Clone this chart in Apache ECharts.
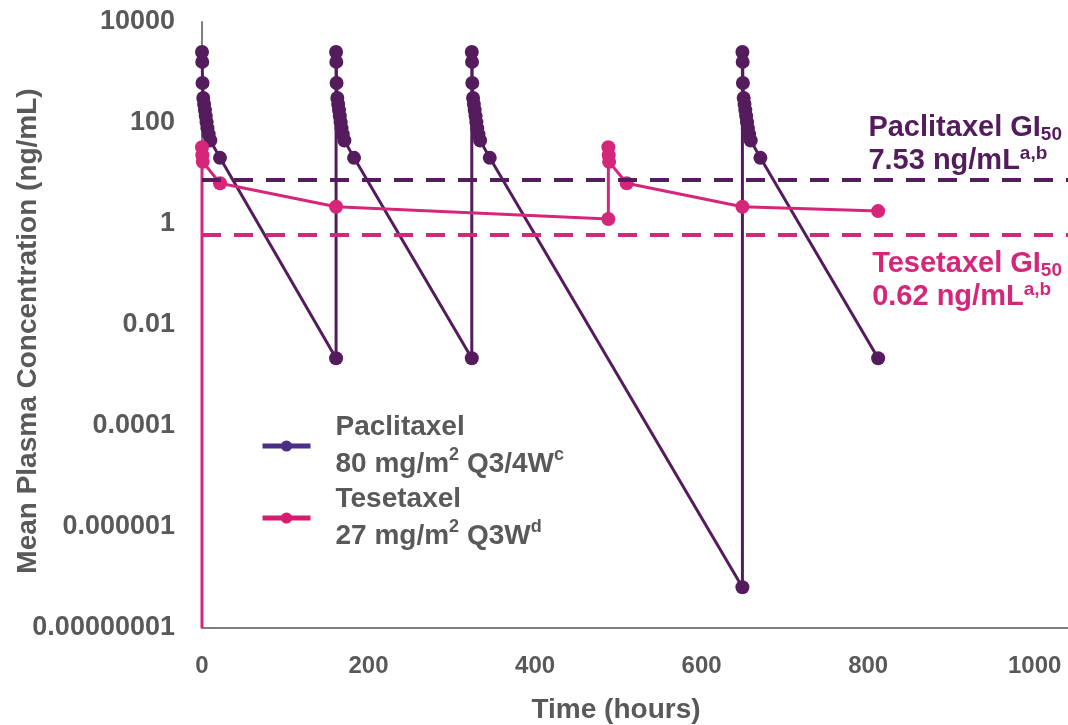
<!DOCTYPE html>
<html><head><meta charset="utf-8">
<script src="https://cdn.jsdelivr.net/npm/echarts@6/dist/echarts.min.js"></script>
<style>html,body{margin:0;padding:0;background:#fff}#c{width:1068px;height:725px}</style>
</head><body><div id="c"></div>
<script>
// ---- data ----
const paclitaxelTime = [
  0, 0.3, 0.6, 1.5, 2.5, 3.5, 4.5, 5.5, 6.5, 8, 10, 21.6, 161,
  161, 161.3, 161.6, 162.5, 163.5, 164.5, 165.5, 166.5, 167.5, 169, 171, 182.6, 324,
  324, 324.3, 324.6, 325.5, 326.5, 327.5, 328.5, 329.5, 330.5, 332, 334, 345.6, 649,
  649, 649.3, 649.6, 650.5, 651.5, 652.5, 653.5, 654.5, 655.5, 657, 659, 670.6, 812
];
const paclitaxelConc = [
  2550, 1620, 620, 313, 238, 180, 137, 104, 79, 60, 45, 20.4, 0.0022,
  2550, 1620, 620, 313, 238, 180, 137, 104, 79, 60, 45, 20.4, 0.0022,
  2550, 1620, 620, 313, 238, 180, 137, 104, 79, 60, 45, 20.4, 0.000000064,
  2550, 1620, 620, 313, 238, 180, 137, 104, 79, 60, 45, 20.4, 0.0022
];
const tesetaxelTime = [0, 0, 0.4, 0.9, 21.6, 161, 488, 488, 488.4, 488.9, 510, 649, 812];
const tesetaxelConc = [0.00000001, 33, 23, 17, 6.4, 2.2, 1.26, 33, 23, 17, 6.4, 2.2, 1.8];
const gi50Paclitaxel = 7.53;
const gi50Tesetaxel = 0.62;
const yTickLabels = ['0.00000001', '0.000001', '0.0001', '0.01', '1', '100', '10000'];
const xTickValues = [0, 200, 400, 600, 800, 1000];

const PURPLE = '#541c5c';
const PINK = '#d6267a';
const GREY = '#595959';
const FONT = '"Liberation Sans", Arial, sans-serif';

function zip(xs, ys) { return xs.map((x, i) => [x, ys[i]]); }

const pacData = zip(paclitaxelTime, paclitaxelConc);
const tesData = zip(tesetaxelTime, tesetaxelConc).map((p, i) =>
  i === 0 ? { value: p, symbol: 'none' } : p);

function annotRich(color) {
  return {
    t: { fontSize: 29, fontWeight: 'bold', color: color, fontFamily: FONT, lineHeight: 33, align: 'left' },
    sub: { fontSize: 19, fontWeight: 'bold', color: color, fontFamily: FONT, lineHeight: 33, align: 'left', verticalAlign: 'bottom', padding: [8, 0, 0, 0] },
    sup: { fontSize: 19, fontWeight: 'bold', color: color, fontFamily: FONT, lineHeight: 33, align: 'left', verticalAlign: 'top', padding: [0, 0, 8, 0] }
  };
}

const chart = echarts.init(document.getElementById('c'), null, { renderer: 'canvas' });
chart.setOption({
  backgroundColor: '#fff',
  animation: false,
  textStyle: { fontFamily: FONT },
  grid: { left: 202, right: 0, top: 22, bottom: 97, containLabel: false, outerBoundsMode: 'none' },
  legend: {
    orient: 'vertical',
    left: 260,
    top: 409,
    padding: 0,
    itemWidth: 48,
    itemHeight: 14,
    itemGap: -2,
    data: [
      { name: 'Paclitaxel', itemStyle: { color: '#4b2f86' }, lineStyle: { color: '#4b2f86', width: 5 } },
      { name: 'Tesetaxel', itemStyle: { color: '#d81b6f' }, lineStyle: { color: '#d81b6f', width: 5 } }
    ],
    formatter: function (name) {
      if (name === 'Paclitaxel') return '{t|Paclitaxel}\n{t|80 mg/m}{sup|2}{t| Q3/4W}{sup|c}';
      return '{t|Tesetaxel}\n{t|27 mg/m}{sup|2}{t| Q3W}{sup|d}';
    },
    textStyle: {
      fontSize: 28,
      fontWeight: 'bold',
      color: GREY,
      lineHeight: 37,
      padding: [0, 0, 0, 20],
      rich: {
        t: { fontSize: 28, fontWeight: 'bold', color: GREY, fontFamily: FONT, lineHeight: 37 },
        sup: { fontSize: 18, fontWeight: 'bold', color: GREY, fontFamily: FONT, verticalAlign: 'top', lineHeight: 24 }
      }
    }
  },
  xAxis: {
    type: 'value',
    min: 0,
    max: 1040,
    interval: 200,
    name: 'Time (hours)',
    nameLocation: 'middle',
    nameGap: 68,
    nameMoveOverlap: false,
    nameTextStyle: { fontSize: 28, fontWeight: 'bold', color: GREY, fontFamily: FONT, padding: [0, 38, 0, 0] },
    axisLine: { show: true, lineStyle: { color: '#7f7f7f', width: 2 } },
    axisTick: { show: false },
    splitLine: { show: false },
    axisLabel: {
      showMaxLabel: false,
      margin: 26,
      fontSize: 24, fontWeight: 'bold', color: GREY, fontFamily: FONT,
      formatter: function (v) { return xTickValues.indexOf(v) >= 0 ? String(v) : ''; }
    }
  },
  yAxis: {
    type: 'log',
    logBase: 100,
    min: 0.00000001,
    max: 10000,
    splitNumber: 6,
    name: 'Mean Plasma Concentration (ng/mL)',
    nameLocation: 'middle',
    nameRotate: 90,
    nameGap: 160,
    nameMoveOverlap: false,
    nameTextStyle: { fontSize: 28, fontWeight: 'bold', color: GREY, fontFamily: FONT, padding: [0, 12, 0, 0] },
    axisLine: { show: true, lineStyle: { color: '#7f7f7f', width: 2 } },
    axisTick: { show: false },
    splitLine: { show: false },
    axisLabel: {
      margin: 27,
      fontSize: 27, fontWeight: 'bold', color: GREY, fontFamily: FONT,
      formatter: function (v) {
        const idx = Math.round(Math.log10(v) / 2) + 4;
        return yTickLabels[idx] || '';
      }
    }
  },
  series: [
    {
      name: 'Paclitaxel',
      type: 'line',
      data: pacData,
      color: PURPLE,
      lineStyle: { color: PURPLE, width: 3 },
      itemStyle: { color: PURPLE },
      symbol: 'circle',
      symbolSize: 14,
      showAllSymbol: true,
      z: 2,
      markLine: {
        silent: true,
        symbol: 'none',
        lineStyle: { color: PURPLE, width: 4, type: [19, 13] },
        label: {
          show: true,
          position: 'insideEndTop',
          distance: [6, 2],
          formatter: '{t|Paclitaxel GI}{sub|50}\n{t|7.53 ng/mL}{sup|a,b}',
          rich: annotRich(PURPLE)
        },
        data: [{ yAxis: gi50Paclitaxel }]
      }
    },
    {
      name: 'Tesetaxel',
      type: 'line',
      data: tesData,
      color: PINK,
      lineStyle: { color: PINK, width: 3 },
      itemStyle: { color: PINK },
      symbol: 'circle',
      symbolSize: 14,
      showAllSymbol: true,
      z: 3,
      markLine: {
        silent: true,
        symbol: 'none',
        lineStyle: { color: PINK, width: 4, type: [19, 13] },
        label: {
          show: true,
          position: 'insideEndBottom',
          distance: [6, 13],
          formatter: '{t|Tesetaxel GI}{sub|50}\n{t|0.62 ng/mL}{sup|a,b}',
          rich: annotRich(PINK)
        },
        data: [{ yAxis: gi50Tesetaxel }]
      }
    }
  ]
});
</script>
</body></html>
